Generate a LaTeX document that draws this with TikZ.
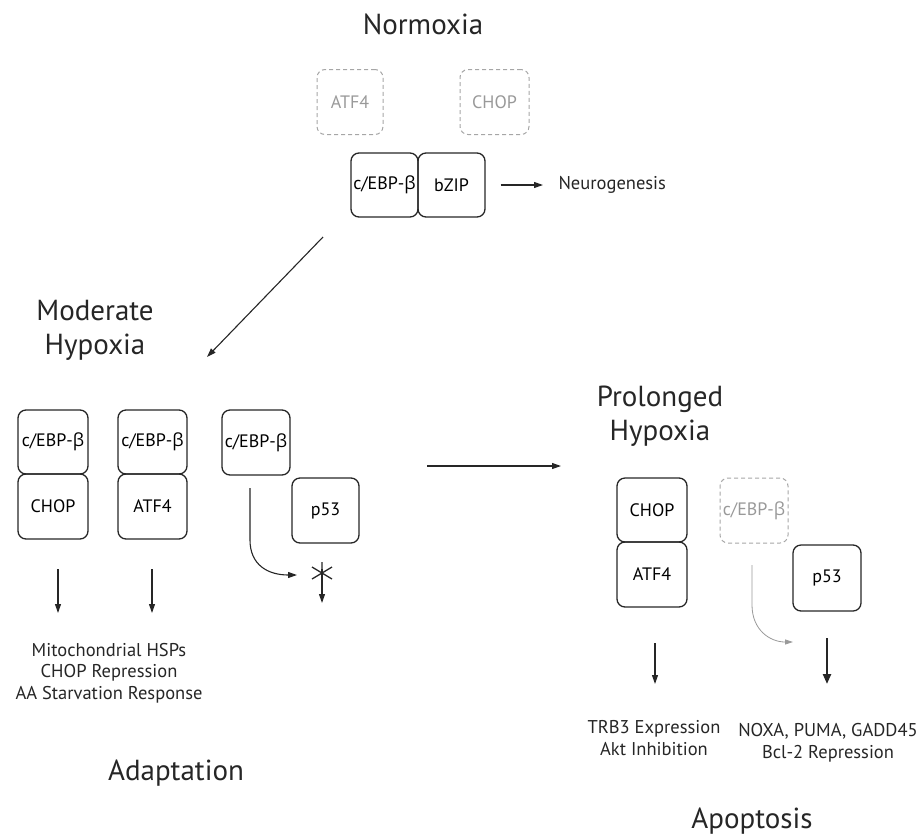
\documentclass[tikz,border=0pt]{standalone}
\usepackage{fontspec}
\setmainfont{PT Sans}
\newfontfamily\grk{Open Sans}
\usetikzlibrary{arrows.meta}
\newcommand{\cebp}{c/EBP-{\grk β}}
\begin{document}
\begin{tikzpicture}[x=1pt,y=-1pt,
  prot/.style={draw=black!85,line width=1.3pt,rounded corners=8pt,minimum width=68pt,minimum height=65pt,inner sep=0pt,font=\fontsize{18}{18}\selectfont},
  ghost/.style={prot,draw=black!35,text=black!40,dashed,dash pattern=on 4pt off 3pt,line width=1pt},
  title/.style={font=\fontsize{29}{34}\selectfont,align=center,text=black!85},
  lbl/.style={font=\fontsize{18.5}{21.5}\selectfont,align=center,text=black!85},
  arr/.style={-{Triangle[length=9pt,width=6pt]},line width=1.1pt,draw=black!85},
  garr/.style={-{Triangle[length=8pt,width=5pt]},line width=0.8pt,draw=black!40},
  tarr/.style={-{Triangle[length=10pt,width=8pt]},line width=2.2pt,draw=black!85}]
\useasboundingbox (0,0) rectangle (923,836);
% Normoxia
\node[title] (tnorm) at (423,24) {Normoxia};
\node[ghost,minimum width=66pt] (natf) at (350,102) {ATF4};
\node[ghost,minimum width=69pt] (nchop) at (494.5,102) {CHOP};
\node[prot,minimum width=67pt,minimum height=64pt] (ncebp) at (384.5,185) {\cebp};
\node[prot,minimum width=67pt,minimum height=64pt] (nbzip) at (451.5,185) {bZIP};
\node[lbl,anchor=west] (neuro) at (555,185) {Neurogenesis};
\draw[arr] ([xshift=15pt]nbzip.east) -- ([xshift=-12pt]neuro.west);
\coordinate (d1) at (323,237);
\coordinate (d2) at (207,357);
\draw[arr] (d1) -- (d2);
% Moderate hypoxia
\node[title] (tmod) at (95,330) {Moderate\\Hypoxia};
\node[prot,minimum width=70pt,minimum height=64pt] (m1a) at (53,442) {\cebp};
\node[prot,minimum width=70pt] (m1b) at (53,506.5) {CHOP};
\node[prot,minimum width=69pt,minimum height=64pt] (m2a) at (152.5,442) {\cebp};
\node[prot,minimum width=69pt] (m2b) at (152.5,506.5) {ATF4};
\node[prot] (m3a) at (256,442.5) {\cebp};
\node[prot,minimum width=67pt] (mp53) at (325.5,510.5) {p53};
\coordinate (c1) at (250,488);
\coordinate (c2) at (297,575);
\draw[arr] (c1) -- (250,540) .. controls (250,565) and (268,575) .. (c2);
\coordinate (star) at (322,573);
\draw[line width=1.3pt,black!85] ([yshift=-11pt]star) -- ([yshift=11pt]star)
  ([shift={(-10pt,-6pt)}]star) -- ([shift={(10pt,6pt)}]star)
  ([shift={(-10pt,6pt)}]star) -- ([shift={(10pt,-6pt)}]star);
\coordinate (s2) at (322,603);
\draw[arr] ([yshift=4pt]star) -- (s2);
\coordinate (a1) at (58,569);
\coordinate (a1e) at (58,613);
\coordinate (a2) at (152,569);
\coordinate (a2e) at (152,613);
\draw[arr] (a1) -- (a1e);
\draw[arr] (a2) -- (a2e);
\node[lbl] (adlbl) at (109,673) {Mitochondrial HSPs\\CHOP Repression\\AA Starvation Response};
\node[title] (tadapt) at (176,773) {Adaptation};
% middle arrow
\coordinate (h1) at (427,466);
\coordinate (h2) at (561,466);
\draw[arr] (h1) -- (h2);
% Prolonged hypoxia
\node[title] (tprol) at (660,416) {Prolonged\\Hypoxia};
\node[prot,minimum width=70pt,minimum height=64pt] (pchop) at (652,510) {CHOP};
\node[prot,minimum width=70pt] (patf) at (652,574.5) {ATF4};
\node[ghost] (pcebp) at (754,510.5) {\cebp};
\node[prot,minimum height=66pt] (pp53) at (827,578) {p53};
\coordinate (g1) at (752,565);
\coordinate (g2) at (793,642);
\draw[garr] (g1) -- (752,605) .. controls (752,630) and (770,642) .. (g2);
\coordinate (t1) at (655,643);
\coordinate (t1e) at (655,684);
\draw[arr] (t1) -- (t1e);
\coordinate (t2) at (827,638);
\coordinate (t2e) at (827,684);
\draw[tarr] (t2) -- (t2e);
\node[lbl] (trb) at (654,738) {TRB3 Expression\\Akt Inhibition};
\node[lbl] (noxa) at (828,743) {NOXA, PUMA, GADD45\\Bcl-2 Repression};
\node[title] (tapop) at (752,821) {Apoptosis};
\end{tikzpicture}
\end{document}
